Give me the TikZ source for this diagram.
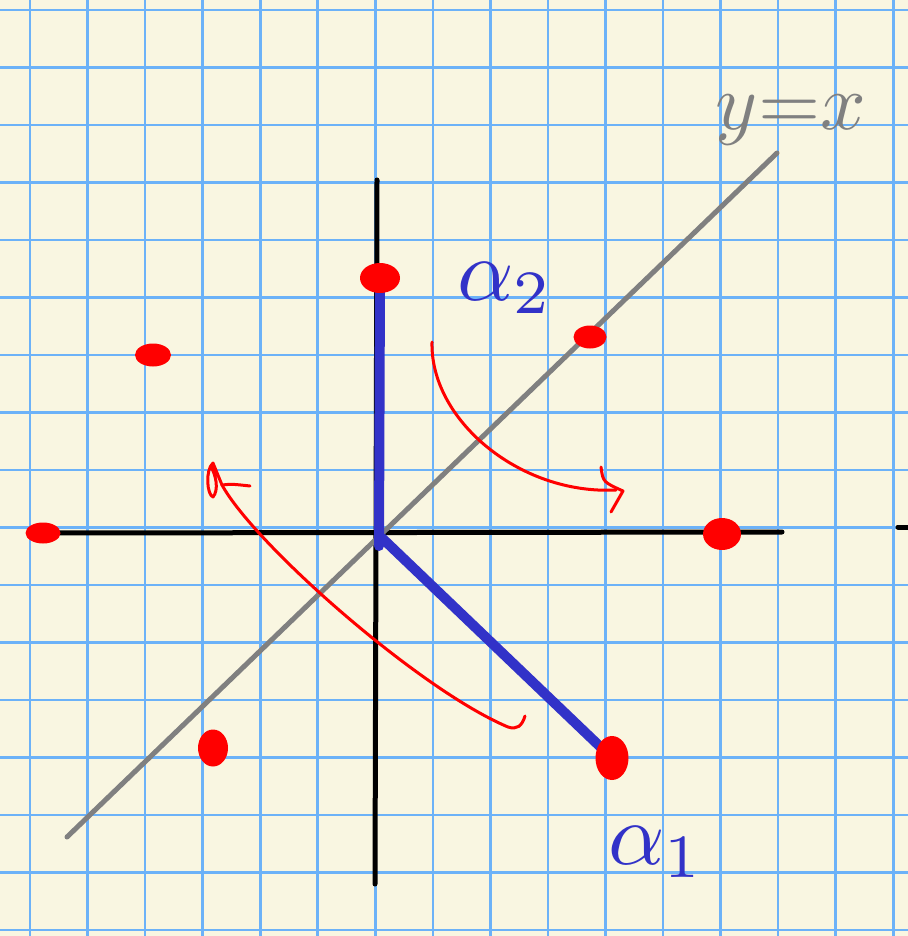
\documentclass[tikz,border=0pt]{standalone}
\usetikzlibrary{shapes.geometric}
\definecolor{paper}{RGB}{249,246,225}
\definecolor{gridblue}{RGB}{108,178,248}
\definecolor{pen}{RGB}{255,0,0}
\definecolor{ink}{RGB}{50,50,200}
\definecolor{graypen}{RGB}{128,128,128}
\begin{document}
\begin{tikzpicture}[x=0.5pt,y=-0.5pt,
  gridline/.style={gridblue,line width=1.3pt},
  axis/.style={black,line width=2.5pt,line cap=round},
  diag/.style={graypen,line width=2.5pt,line cap=round},
  root/.style={ink,line width=5pt,line cap=round},
  arc/.style={pen,line width=1.5pt,line cap=round,line join=round},
  dot/.style={ellipse,fill=pen,inner sep=0pt},
  lbl/.style={inner sep=0pt}
]
\useasboundingbox (0,0) rectangle (908,936);
\fill[paper] (0,0) rectangle (908,936);
\foreach \i in {0,...,15} \draw[gridline] ({30+57.55*\i},0) -- ({30+57.55*\i},936);
\foreach \j in {0,...,16} \draw[gridline] (0,{10+57.5*\j}) -- (908,{10+57.5*\j});
% axes
\coordinate (vtop) at (377,180);
\coordinate (vbot) at (375,884);
\coordinate (hleft) at (45,533);
\coordinate (hright) at (782,532);
\coordinate (stubL) at (898,527);
\coordinate (stubR) at (912,527);
\draw[axis] (vtop) -- (vbot);
\draw[axis] (hleft) -- (hright);
\draw[axis] (stubL) -- (stubR);
% y = x line
\coordinate (dA) at (67,837);
\coordinate (dB) at (777,153);
\draw[diag] (dA) -- (dB);
% dot positions
\coordinate (cA) at (380,278);
\coordinate (cG) at (612,758);
\coordinate (Ov) at (379,546);
\coordinate (Od) at (382,538);
% roots
\draw[root] (cA) -- (Ov);
\draw[root] (Od) -- (cG);
% red dots
\node[dot,minimum width=20pt,minimum height=15pt] (pA) at (cA) {};
\node[dot,minimum width=18pt,minimum height=11.5pt] (pB) at (153,355) {};
\node[dot,minimum width=16.5pt,minimum height=11.5pt] (pC) at (590,337) {};
\node[dot,minimum width=19pt,minimum height=16pt] (pD) at (722,534) {};
\node[dot,minimum width=17.5pt,minimum height=10.5pt] (pE) at (43,533) {};
\node[dot,minimum width=15pt,minimum height=18.5pt] (pF) at (213,748) {};
\node[dot,minimum width=16.5pt,minimum height=22pt] (pG) at (cG) {};
% red arc (upper right)
\coordinate (a1s) at (432,342);
\coordinate (a1e) at (616,490);
\draw[arc] (a1s) .. controls (430,420) and (520,495) .. (a1e);
\coordinate (h1a) at (601,467);
\coordinate (h1t) at (623,491);
\coordinate (h1b) at (611,512);
\draw[arc] (h1a) .. controls (603,482) .. (h1t) -- (h1b);
% red arc (lower left)
\coordinate (a2s) at (525,716);
\coordinate (a2e) at (222,485);
\draw[arc] (a2s) .. controls (522,726) and (517,730) .. (508,727) .. controls (420,690) and (255,545) .. (a2e);
\coordinate (h2t) at (213,463);
\coordinate (h2r) at (250,486);
\draw[arc] (a2e) -- (h2t) .. controls (205,470) and (207,495) .. (213,497) .. controls (219,490) and (216,475) .. (211,467);
\draw[arc] (a2e) .. controls (232,484) .. (h2r);
% labels
\node[lbl,text=ink] (l2) at (505,288) {\scalebox{4.4}{$\alpha_2$}};
\node[lbl,text=ink] (l1) at (656,852) {\scalebox{4.4}{$\alpha_1$}};
\node[lbl,text=graypen] (lyx) at (791,120) {\scalebox{4}{$y{=}x$}};
\end{tikzpicture}
\end{document}
